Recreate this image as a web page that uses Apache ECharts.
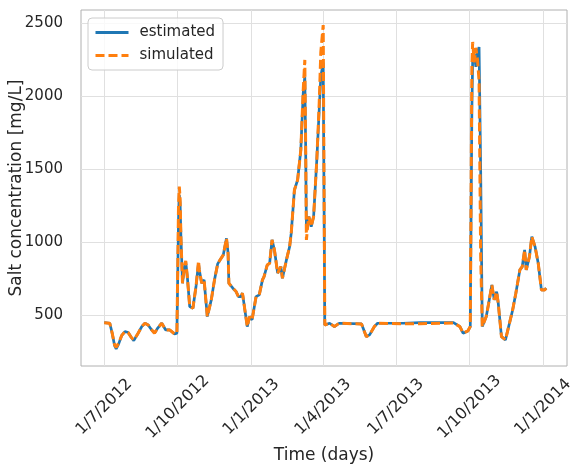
<!DOCTYPE html>
<html><head><meta charset="utf-8">
<script src="https://cdn.jsdelivr.net/npm/echarts@6/dist/echarts.min.js"></script>
<style>html,body{margin:0;padding:0;background:#fff}#c{width:571px;height:466px}</style>
</head><body><div id="c"></div>
<script>
const dates = ['2012-07-01','2012-07-08','2012-07-11','2012-07-14','2012-07-16','2012-07-19','2012-07-23','2012-07-27','2012-07-31','2012-08-04',
'2012-08-07','2012-08-12','2012-08-17','2012-08-21','2012-08-25','2012-08-29','2012-09-02','2012-09-06','2012-09-11','2012-09-16',
'2012-09-21','2012-09-27','2012-09-30','2012-10-02','2012-10-03','2012-10-04','2012-10-05','2012-10-07','2012-10-09','2012-10-11',
'2012-10-13','2012-10-16','2012-10-20','2012-10-24','2012-10-27','2012-10-28','2012-10-31','2012-11-03','2012-11-07','2012-11-12',
'2012-11-16','2012-11-20','2012-11-23','2012-11-27','2012-12-01','2012-12-03','2012-12-04','2012-12-09','2012-12-13','2012-12-16',
'2012-12-19','2012-12-21','2012-12-27','2012-12-30','2013-01-02','2013-01-07','2013-01-11','2013-01-15','2013-01-17','2013-01-21',
'2013-01-24','2013-01-27','2013-01-30','2013-02-03','2013-02-07','2013-02-09','2013-02-14','2013-02-18','2013-02-20','2013-02-24',
'2013-02-28','2013-03-04','2013-03-07','2013-03-09','2013-03-10','2013-03-11','2013-03-13','2013-03-14','2013-03-17','2013-03-20',
'2013-03-24','2013-03-27','2013-03-29','2013-04-01','2013-04-03','2013-04-09','2013-04-15','2013-04-21','2013-05-19','2013-05-25',
'2013-05-29','2013-06-04','2013-06-08','2013-07-10','2013-07-31','2013-09-11','2013-09-19','2013-09-23','2013-09-29','2013-10-02',
'2013-10-04','2013-10-05','2013-10-07','2013-10-09','2013-10-11','2013-10-13','2013-10-15','2013-10-17','2013-10-22','2013-10-25',
'2013-10-29','2013-11-01','2013-11-04','2013-11-06','2013-11-10','2013-11-15','2013-11-19','2013-11-24','2013-11-28','2013-12-03',
'2013-12-06','2013-12-09','2013-12-11','2013-12-15','2013-12-18','2013-12-22','2013-12-26','2013-12-30','2014-01-03','2014-01-05'];

const estimated = [447,443,375,290,268,300,360,386,379,345,
324,370,420,443,431,400,375,410,443,397,
397,370,375,1150,1320,1265,1036,717,808,865,
762,557,546,700,854,808,717,740,489,603,
740,850,877,911,1025,923,717,683,660,625,
625,649,420,489,466,625,637,740,762,842,
854,1014,945,786,831,751,877,968,1060,1356,
1425,1630,2019,2132,1676,1082,1151,1173,1105,1173,
1562,1904,2132,2230,431,443,420,443,438,351,
363,420,443,443,447,447,420,375,390,420,
1900,2250,2290,2200,2300,2335,1500,420,489,580,
705,603,660,580,351,329,420,534,649,808,
831,945,808,899,1036,968,854,671,671,683];

const simulated = [447,443,375,295,278,305,360,386,379,345,
328,370,420,443,431,400,375,410,443,397,
397,370,375,1250,1379,1300,1036,717,820,870,
762,557,546,700,870,808,717,740,489,603,
740,850,877,911,1025,923,717,683,660,625,
625,649,420,489,466,625,637,740,762,842,
854,1014,945,786,831,751,877,968,1060,1356,
1425,1630,2040,2247,1700,1014,1130,1173,1105,1173,
1562,1950,2300,2486,431,443,420,443,438,351,
363,420,443,440,440,445,420,375,390,420,
2200,2370,2230,2330,2250,2100,900,420,489,580,
705,603,660,580,351,329,420,534,649,808,
831,945,808,899,1036,968,854,671,671,683];

const xTickDates = ['2012-07-01','2012-10-01','2013-01-01','2013-04-01','2013-07-01','2013-10-01','2014-01-01'];
const yTicks = [500,1000,1500,2000,2500];

function ts(s){const p=s.split('-');return Date.UTC(+p[0],+p[1]-1,+p[2]);}
const font = 'DejaVu Sans';
const txt = '#262626';
const chart = echarts.init(document.getElementById('c'), null, {renderer:'canvas'});
const xt = xTickDates.map(ts);
chart.setOption({
  animation:false,
  grid:{left:81,right:4,top:10,bottom:100,show:true,borderColor:'#b0b0b0',borderWidth:1,containLabel:false,outerBoundsMode:'none'},
  xAxis:{type:'value',min:ts('2012-06-02'),max:ts('2014-01-31'),
    axisLine:{show:false},
    axisTick:{show:false,customValues:xt},
    axisLabel:{customValues:xt,rotate:45,align:'center',verticalAlign:'middle',margin:41,fontSize:16,color:txt,fontFamily:font,
      formatter:function(v){const d=new Date(v);return d.getUTCDate()+'/'+(d.getUTCMonth()+1)+'/'+d.getUTCFullYear();}},
    splitLine:{show:true,lineStyle:{color:'#e0e0e0',width:1}},
    name:'Time (days)',nameLocation:'middle',nameGap:81,nameMoveOverlap:false,nameTextStyle:{fontSize:17,color:txt,fontFamily:font}},
  yAxis:{type:'value',min:150,max:2589,
    axisLine:{show:false},
    axisTick:{show:false,customValues:yTicks},
    axisLabel:{customValues:yTicks,margin:18,fontSize:15,color:txt,fontFamily:font,formatter:function(v){return String(v);}},
    splitLine:{show:true,lineStyle:{color:'#e0e0e0',width:1}},
    name:'Salt concentration [mg/L]',nameLocation:'middle',nameGap:56,nameMoveOverlap:false,nameTextStyle:{fontSize:17,color:txt,fontFamily:font}},
  legend:{left:88,top:18,orient:'vertical',backgroundColor:'rgba(255,255,255,0.8)',borderColor:'#cccccc',borderWidth:1,borderRadius:4,
    padding:[7,8,7,6],itemGap:8,itemWidth:33,itemHeight:14,itemStyle:{opacity:0},lineStyle:{width:3},
    textStyle:{fontSize:15,color:txt,fontFamily:font,padding:[0,0,0,6]},data:['estimated','simulated']},
  series:[
    {name:'estimated',type:'line',symbol:'none',data:dates.map((d,i)=>[ts(d),estimated[i]]),
      lineStyle:{color:'#1f77b4',width:2.7},itemStyle:{color:'#1f77b4'}},
    {name:'simulated',type:'line',symbol:'none',data:dates.map((d,i)=>[ts(d),simulated[i]]),
      lineStyle:{color:'#ff7f0e',width:3,type:[9,4]},itemStyle:{color:'#ff7f0e'}}
  ]
});
</script></body></html>
